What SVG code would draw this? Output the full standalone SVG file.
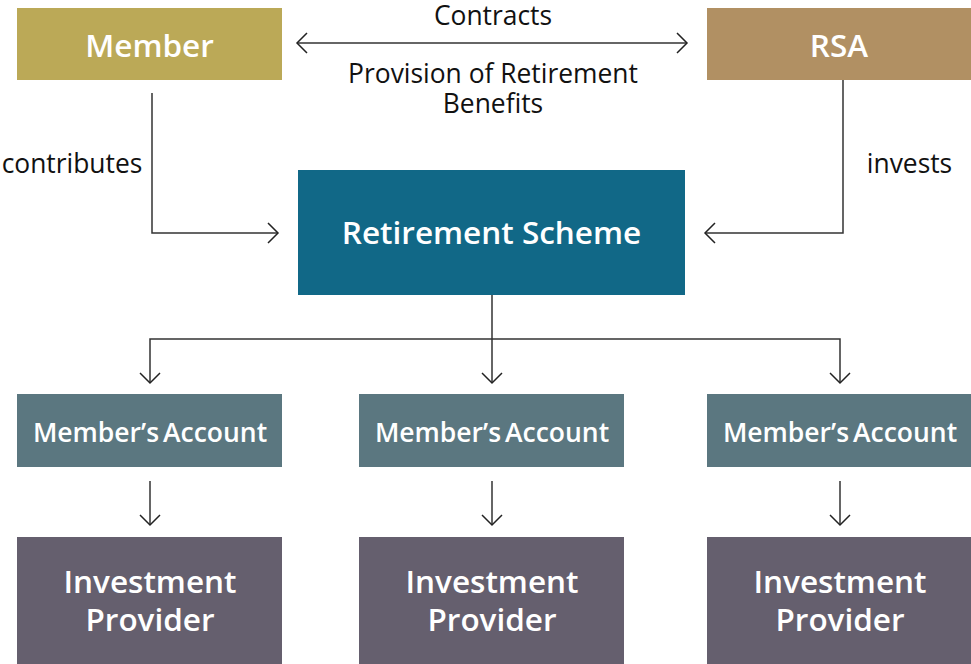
<svg xmlns="http://www.w3.org/2000/svg" width="971" height="664" viewBox="0 0 971 664">
<defs>
<marker id="ah" viewBox="-12 -12 14 24" markerWidth="14" markerHeight="24" refX="0" refY="0" orient="auto" markerUnits="userSpaceOnUse">
<path d="M-10,-10 L0,0 L-10,10" fill="none" stroke="#222" stroke-width="1.5"/>
</marker>
<marker id="ahs" viewBox="-12 -12 14 24" markerWidth="14" markerHeight="24" refX="0" refY="0" orient="auto-start-reverse" markerUnits="userSpaceOnUse">
<path d="M-10,-10 L0,0 L-10,10" fill="none" stroke="#222" stroke-width="1.5"/>
</marker>
<style>
.box text{font-family:"Open Sans","Noto Sans",sans-serif;font-weight:600;fill:#fff;text-anchor:middle}
.acc{font-size:26.5px;word-spacing:-3px}
.inv{font-size:31.5px}
.lbl{font-family:"Open Sans","Noto Sans",sans-serif;font-size:26.4px;fill:#111}
.c{fill:none;stroke:#333;stroke-width:1.5}
</style>
</defs>
<rect width="971" height="664" fill="#fff"/>
<g id="member" class="box"><rect x="17" y="8" width="265" height="72" fill="#BBA957"/><text x="149.5" y="57" font-size="31.5">Member</text></g>
<g id="rsa" class="box"><rect x="707" y="8" width="264" height="72" fill="#B19063"/><text x="839" y="57" font-size="31.5">RSA</text></g>
<g id="scheme" class="box"><rect x="298" y="170" width="387" height="125" fill="#116887"/><text x="491.5" y="244" font-size="31.5">Retirement Scheme</text></g>
<g id="acc1" class="box"><rect x="17" y="394" width="265" height="73" fill="#5B7780"/><text class="acc" x="150" y="442">Member’s Account</text></g>
<g id="acc2" class="box"><rect x="359" y="394" width="265" height="73" fill="#5B7780"/><text class="acc" x="492" y="442">Member’s Account</text></g>
<g id="acc3" class="box"><rect x="707" y="394" width="264" height="73" fill="#5B7780"/><text class="acc" x="840" y="442">Member’s Account</text></g>
<g id="inv1" class="box"><rect x="17" y="537" width="265" height="127" fill="#655F6E"/><text class="inv" x="150" y="593">Investment</text><text class="inv" x="150" y="631">Provider</text></g>
<g id="inv2" class="box"><rect x="359" y="537" width="265" height="127" fill="#655F6E"/><text class="inv" x="492" y="593">Investment</text><text class="inv" x="492" y="631">Provider</text></g>
<g id="inv3" class="box"><rect x="707" y="537" width="264" height="127" fill="#655F6E"/><text class="inv" x="840" y="593">Investment</text><text class="inv" x="840" y="631">Provider</text></g>
<g id="connectors">
<path class="c" d="M297,43 L687,43" marker-start="url(#ahs)" marker-end="url(#ah)"/>
<path class="c" d="M152,93 L152,233 L278,233" marker-end="url(#ah)"/>
<path class="c" d="M843,80 L843,233 L705,233" marker-end="url(#ah)"/>
<path class="c" d="M492,295 L492,383" marker-end="url(#ah)"/>
<path class="c" d="M150,383 L150,339 L840,339 L840,383" marker-start="url(#ahs)" marker-end="url(#ah)"/>
<path class="c" d="M150,481 L150,525" marker-end="url(#ah)"/>
<path class="c" d="M492,481 L492,525" marker-end="url(#ah)"/>
<path class="c" d="M840,481 L840,525" marker-end="url(#ah)"/>
</g>
<g id="labels">
<text class="lbl" x="493" y="25" text-anchor="middle">Contracts</text>
<text class="lbl" x="493" y="83" text-anchor="middle">Provision of Retirement</text>
<text class="lbl" x="493" y="113" text-anchor="middle">Benefits</text>
<text class="lbl" x="72" y="173" text-anchor="middle">contributes</text>
<text class="lbl" x="909.5" y="173" text-anchor="middle">invests</text>
</g>
</svg>
